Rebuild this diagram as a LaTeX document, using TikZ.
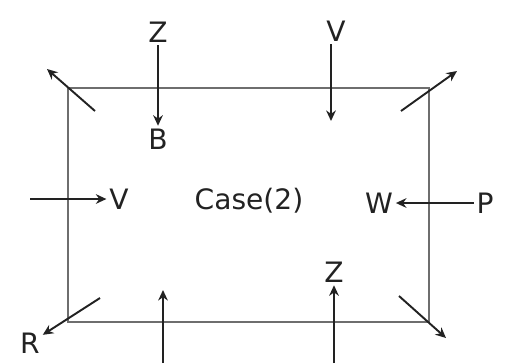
\documentclass[tikz,border=0pt]{standalone}
\usepackage{fontspec}
\setmainfont{DejaVu Sans}
\usepackage{tikz}
\usetikzlibrary{arrows.meta}
\definecolor{framegray}{HTML}{6E6E6E}
\definecolor{inkdark}{HTML}{222222}
\tikzset{
  frameline/.style={draw=framegray,line width=1.1pt},
  force/.style={-{Stealth[length=6pt,width=5.5pt]},line width=1.1pt,inkdark},
  lbl/.style={inner sep=1.5pt,text=inkdark,font=\fontsize{16}{18}\selectfont},
}

\begin{document}
\begin{tikzpicture}[x=0.02cm,y=-0.02cm]
  \useasboundingbox (0,0) rectangle (509,363);
  \draw[frameline] (68,88) rectangle (429,322);
  % labels
  \node[lbl] (zTop) at (158,32) {Z};
  \node[lbl] (bTop) at (158,139) {B};
  \node[lbl] (vTop) at (336,31) {V};
  \node[lbl] (vLeft) at (119,199) {V};
  \node[lbl] (caseTxt) at (249,201) {Case(2)};
  \node[lbl] (wRight) at (379,203) {W};
  \node[lbl] (pRight) at (485,203) {P};
  \node[lbl] (rLow) at (30,343) {R};
  \node[lbl] (zLow) at (334,272) {Z};
  % free ends
  \coordinate (tlFrom) at (95,111);
  \coordinate (tlTo) at (47,69);
  \coordinate (trFrom) at (401,111);
  \coordinate (trTo) at (457,71);
  \coordinate (vTopTo) at (331,121);
  \coordinate (leftFrom) at (30,199);
  \coordinate (blFrom) at (100,298);
  \coordinate (brFrom) at (399,296);
  \coordinate (brTo) at (446,338);
  \coordinate (bmFrom) at (163,363);
  \coordinate (bmTo) at (163,290);
  \coordinate (zLowFrom) at (334,363);
  % arrows
  \draw[force] (tlFrom) -- (tlTo);
  \draw[force] (trFrom) -- (trTo);
  \draw[force] (zTop) -- (bTop);
  \draw[force] (vTop.south -| vTopTo) -- (vTopTo);
  \draw[force] (leftFrom) -- (vLeft);
  \draw[force] (pRight) -- (wRight);
  \draw[force] (blFrom) -- (rLow);
  \draw[force] (brFrom) -- (brTo);
  \draw[force] (bmFrom) -- (bmTo);
  \draw[force] (zLowFrom) -- (zLow);
\end{tikzpicture}
\end{document}
